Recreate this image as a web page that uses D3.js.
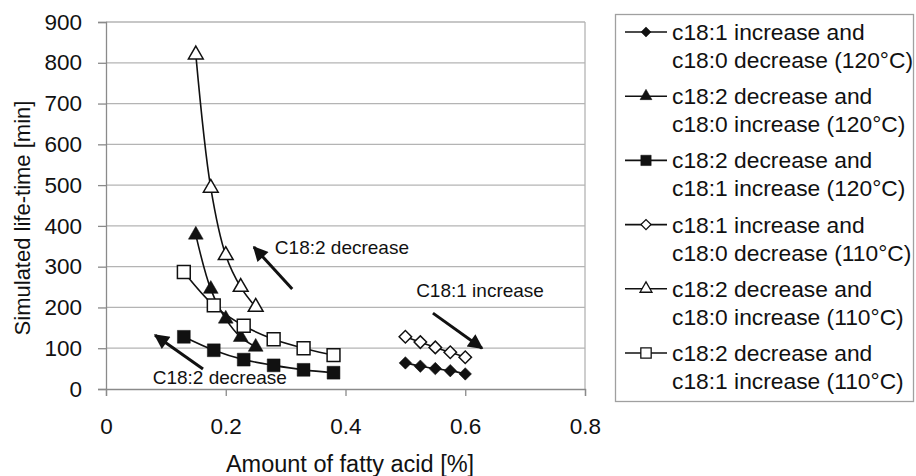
<!DOCTYPE html>
<html lang="en">
<head>
    <meta charset="UTF-8">
    <script src="https://cdnjs.cloudflare.com/ajax/libs/d3/7.8.5/d3.min.js"></script>
    <style>
        body { margin: 0; background: #fff; }
        text { font-family: "Liberation Sans", Arial, sans-serif; fill: #111; }
    </style>
</head>
<body>
    <svg id="chart" width="916" height="476"></svg>
    <script>
        // values
        let xDiamond = [0.5, 0.525, 0.55, 0.575, 0.6];
        let xTriangle = [0.15, 0.175, 0.2, 0.225, 0.25];
        let xSquare = [0.13, 0.18, 0.23, 0.28, 0.33, 0.38];

        let c181up120 = [64, 56, 50, 45, 37];
        let c182down180up120 = [378, 245, 172, 127, 103];
        let c182down181up120 = [128, 95, 72, 58, 47, 40];
        let c181up110 = [128, 115, 102, 90, 78];
        let c182down180up110 = [820, 493, 328, 250, 201];
        let c182down181up110 = [287, 205, 155, 122, 100, 83];

        let xTicks = [0, 0.2, 0.4, 0.6, 0.8];
        let yTicks = [0, 100, 200, 300, 400, 500, 600, 700, 800, 900];

        let legendLabels = [
            ["c18:1 increase and", "c18:0 decrease (120°C)"],
            ["c18:2 decrease and", "c18:0 increase (120°C)"],
            ["c18:2 decrease and", "c18:1 increase (120°C)"],
            ["c18:1 increase and", "c18:0 decrease (110°C)"],
            ["c18:2 decrease and", "c18:0 increase (110°C)"],
            ["c18:2 decrease and", "c18:1 increase (110°C)"]
        ];

        // annotations: text, text position, arrow from -> to (data units)
        let notes = [
            {text: "C18:2 decrease", tx: 0.282, ty: 348, x1: 0.311, y1: 245, x2: 0.247, y2: 348},
            {text: "C18:2 decrease", tx: 0.078, ty: 29, x1: 0.162, y1: 49, x2: 0.082, y2: 132},
            {text: "C18:1 increase", tx: 0.518, ty: 243, x1: 0.546, y1: 186, x2: 0.628, y2: 100}
        ];

        let series = [
            {xs: xDiamond, ys: c181up120, shape: "diamond", filled: true},
            {xs: xTriangle, ys: c182down180up120, shape: "triangle", filled: true},
            {xs: xSquare, ys: c182down181up120, shape: "square", filled: true},
            {xs: xDiamond, ys: c181up110, shape: "diamond", filled: false},
            {xs: xTriangle, ys: c182down180up110, shape: "triangle", filled: false},
            {xs: xSquare, ys: c182down181up110, shape: "square", filled: false}
        ];

        let svg = d3.select("#chart");
        let xScale = d3.scaleLinear().domain([0, 0.8]).range([106, 585]);
        let yScale = d3.scaleLinear().domain([0, 900]).range([389, 22]);

        // gridlines
        svg.append("g")
            .selectAll("line")
            .data(yTicks.slice(1))
            .enter()
            .append("line")
            .attr("x1", xScale(0)).attr("x2", xScale(0.8))
            .attr("y1", d => yScale(d)).attr("y2", d => yScale(d))
            .attr("stroke", "#b4b4b4").attr("stroke-width", 1.3);

        svg.append("line")
            .attr("x1", xScale(0.8)).attr("x2", xScale(0.8))
            .attr("y1", yScale(0)).attr("y2", yScale(900))
            .attr("stroke", "#b4b4b4").attr("stroke-width", 1.3);

        let xAxis = d3.axisBottom(xScale).tickValues(xTicks).tickSize(7).tickPadding(22)
            .tickFormat(d => d === 0 ? "0" : d3.format(".1f")(d));
        let xG = svg.append("g")
            .attr("transform", "translate(0," + yScale(0) + ")")
            .call(xAxis);

        let yAxis = d3.axisLeft(yScale).tickValues(yTicks).tickSize(8).tickPadding(16);
        let yG = svg.append("g")
            .attr("transform", "translate(" + xScale(0) + ",0)")
            .call(yAxis);

        [xG, yG].forEach(g => {
            g.select(".domain").attr("stroke", "#8a8a8a").attr("stroke-width", 1.3);
            g.selectAll(".tick line").attr("stroke", "#8a8a8a").attr("stroke-width", 1.3);
            g.selectAll(".tick text")
                .attr("font-size", 22.5)
                .attr("font-family", "Liberation Sans, Arial, sans-serif")
                .attr("fill", "#111");
        });

        svg.append("text")
            .attr("x", 350).attr("y", 472)
            .attr("text-anchor", "middle")
            .attr("font-size", 23.5)
            .text("Amount of fatty acid [%]");

        svg.append("text")
            .attr("transform", "translate(30,218) rotate(-90)")
            .attr("text-anchor", "middle")
            .attr("font-size", 22)
            .text("Simulated life-time [min]");

        // markers
        function symbolPath(shape, scale) {
            if (shape === "square") return d3.symbol().type(d3.symbolSquare).size(165 * scale)();
            if (shape === "triangle") return d3.symbol().type(d3.symbolTriangle).size(95 * scale)();
            return d3.symbol().type(d3.symbolSquare).size(78 * scale)();
        }
        function rot(shape) { return shape === "diamond" ? " rotate(45)" : ""; }

        let line = d3.line()
            .x(d => xScale(d[0]))
            .y(d => yScale(d[1]))
            .curve(d3.curveCatmullRom.alpha(0.5));

        series.forEach(s => {
            let pts = s.xs.map((x, i) => [x, s.ys[i]]);
            svg.append("path")
                .attr("d", line(pts))
                .attr("fill", "none")
                .attr("stroke", "#111")
                .attr("stroke-width", 1.6);
            svg.append("g")
                .selectAll("path")
                .data(pts)
                .enter()
                .append("path")
                .attr("d", symbolPath(s.shape, 1))
                .attr("transform", d => "translate(" + xScale(d[0]) + "," + yScale(d[1]) + ")" + rot(s.shape))
                .attr("fill", s.filled ? "#111" : "#fff")
                .attr("stroke", "#111")
                .attr("stroke-width", s.filled ? 0.5 : 1.5);
        });

        // annotations
        svg.append("defs").append("marker")
            .attr("id", "head")
            .attr("viewBox", "0 0 10 10")
            .attr("refX", 9).attr("refY", 5)
            .attr("markerWidth", 6).attr("markerHeight", 5)
            .attr("markerUnits", "strokeWidth")
            .attr("orient", "auto")
            .append("path")
            .attr("d", "M0,0 L10,5 L0,10 Z")
            .attr("fill", "#111");

        notes.forEach(n => {
            svg.append("line")
                .attr("x1", xScale(n.x1)).attr("y1", yScale(n.y1))
                .attr("x2", xScale(n.x2)).attr("y2", yScale(n.y2))
                .attr("stroke", "#111").attr("stroke-width", 3)
                .attr("marker-end", "url(#head)");
            svg.append("text")
                .attr("x", xScale(n.tx)).attr("y", yScale(n.ty))
                .attr("dy", "0.35em")
                .attr("font-size", 19)
                .text(n.text);
        });

        // legend
        svg.append("rect")
            .attr("x", 615.5).attr("y", 14.5)
            .attr("width", 298).attr("height", 387)
            .attr("fill", "#fff")
            .attr("stroke", "#a0a0a0").attr("stroke-width", 1.3);

        let leg = svg.append("g")
            .selectAll("g")
            .data(series)
            .enter()
            .append("g")
            .attr("transform", (d, i) => "translate(0," + (32 + i * 64.2) + ")");

        leg.append("line")
            .attr("x1", 625).attr("x2", 667)
            .attr("stroke", "#111").attr("stroke-width", 1.6);
        leg.append("path")
            .attr("d", d => symbolPath(d.shape, 0.65))
            .attr("transform", d => "translate(646,0)" + rot(d.shape))
            .attr("fill", d => d.filled ? "#111" : "#fff")
            .attr("stroke", "#111")
            .attr("stroke-width", d => d.filled ? 0.5 : 1.3);
        leg.append("text")
            .attr("x", 672).attr("dy", "0.35em")
            .attr("font-size", 22.8)
            .text((d, i) => legendLabels[i][0]);
        leg.append("text")
            .attr("x", 672).attr("y", 28).attr("dy", "0.35em")
            .attr("font-size", 22.8)
            .text((d, i) => legendLabels[i][1]);
    </script>
</body>
</html>
